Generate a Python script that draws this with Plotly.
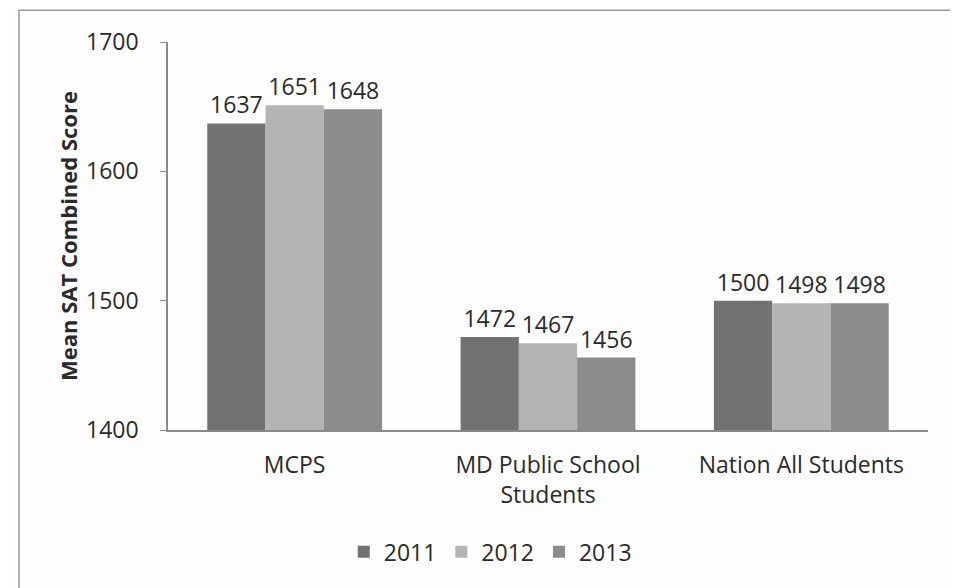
import plotly.graph_objects as go

categories = ["MCPS", "MD Public School<br>Students", "Nation All Students"]
years = ["2011", "2012", "2013"]
scores_2011 = [1637, 1472, 1500]
scores_2012 = [1651, 1467, 1498]
scores_2013 = [1648, 1456, 1498]
series = [scores_2011, scores_2012, scores_2013]
colors = ["#727272", "#b4b4b4", "#8c8c8c"]
y_ticks = [1400, 1500, 1600, 1700]

font_family = "Open Sans, Liberation Sans, sans-serif"

fig = go.Figure()
for yr, vals, col in zip(years, series, colors):
    fig.add_trace(go.Bar(
        name=yr, x=categories, y=vals,
        marker=dict(color=col, line=dict(width=0)),
        text=[str(v) for v in vals], textposition="outside",
        textfont=dict(size=23, color="#2a2a2a", family=font_family),
        cliponaxis=False,
    ))

fig.update_layout(
    width=958, height=588,
    paper_bgcolor="#fdfdfd", plot_bgcolor="#fdfdfd",
    barmode="group", bargap=0.31, bargroupgap=0,
    margin=dict(l=160, r=38, t=34, b=166, autoexpand=False),
    font=dict(family=font_family, color="#2a2a2a"),
    legend=dict(orientation="h", x=0.424, xanchor="center", y=-0.314, yanchor="middle",
                font=dict(size=23, color="#2a2a2a"), traceorder="normal"),
    xaxis=dict(showline=True, linecolor="#8a8a8a", linewidth=1.5, automargin=False,
               tickfont=dict(size=23, color="#2a2a2a"), ticks="", showgrid=False,
               ticklabelstandoff=14),
    yaxis=dict(range=[1400, 1700], tickvals=y_ticks, showgrid=False, automargin=False,
               showline=True, linecolor="#8a8a8a", linewidth=1.5,
               ticks="outside", ticklen=6, tickcolor="#8a8a8a",
               tickfont=dict(size=23, color="#2a2a2a"), ticklabelstandoff=17,
               title=dict(text="<b>Mean SAT Combined Score</b>", font=dict(size=22, color="#2a2a2a"), standoff=2)),
    shapes=[dict(type="rect", xref="paper", yref="paper",
                 x0=-0.196, x1=1.2, y0=-0.7, y1=1.082,
                 line=dict(color="#9a9a9a", width=1.5))],
)

fig.write_html("out.html")
